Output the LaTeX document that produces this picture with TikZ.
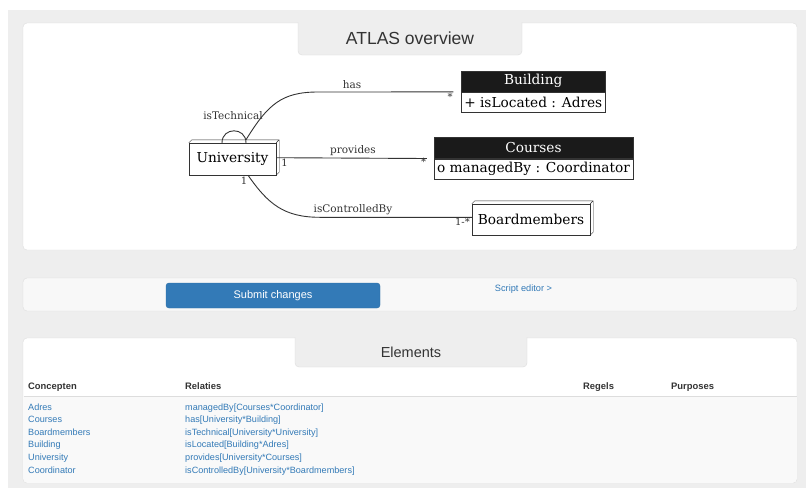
\documentclass[tikz,border=0pt]{standalone}
\usepackage{fontspec}
\setmainfont{DejaVu Serif}
\newfontfamily\websf{Liberation Sans}
\usetikzlibrary{calc}

\definecolor{pagegrey}{HTML}{EEEEEE}
\definecolor{panelline}{HTML}{DDDDDD}
\definecolor{linkblue}{HTML}{337AB7}
\definecolor{btnline}{HTML}{2E6DA4}
\definecolor{rowgrey}{HTML}{F9F9F9}
\definecolor{barfill}{HTML}{F8F8F8}
\definecolor{hdrblack}{HTML}{1A1A1A}
\definecolor{ink}{HTML}{333333}

\tikzset{
  panel/.style={draw=panelline, fill=white, rounded corners=4pt},
  tabshape/.style={draw=panelline, fill=pagegrey, rounded corners=4pt},
  tabtitle/.style={text=ink, font=\websf\fontsize{17.5}{20}\selectfont, inner sep=0pt},
  box3d/.style={draw=ink, fill=white, inner sep=0pt, font=\fontsize{13.7}{16}\selectfont},
  clshead/.style={draw=ink, fill=hdrblack, text=white, inner sep=0pt, minimum height=21pt, font=\fontsize{13.7}{16}\selectfont},
  clsbody/.style={draw=ink, fill=white, inner sep=0pt, minimum height=20pt, font=\fontsize{13.7}{16}\selectfont},
  rel/.style={draw=ink, line width=0.9pt},
  rellabel/.style={inner sep=0pt, text=ink, font=\fontsize{10.5}{12}\selectfont},
  mult/.style={inner sep=0pt, text=ink, font=\fontsize{10}{11}\selectfont},
  colhead/.style={anchor=base west, inner sep=0pt, text=ink, font=\websf\bfseries\fontsize{9.4}{11}\selectfont},
  cell/.style={anchor=base west, inner sep=0pt, text=linkblue, font=\websf\fontsize{9.1}{11}\selectfont},
}

\begin{document}
\begin{tikzpicture}[x=1pt, y=-1pt]
\useasboundingbox (0,0) rectangle (806,488);
\fill[white] (0,0) rectangle (806,488);
\fill[pagegrey] (8,10) rectangle (806,488);

% ---------- overview panel ----------
\draw[panel] (23,23) rectangle (797,250);
\draw[tabshape] (298,22) -- (298,55) -- (522,55) -- (522,22);
\node[tabtitle] (ovtitle) at (410,38.5) {ATLAS overview};

% concept University with its depth faces
\node[box3d, minimum width=87pt, minimum height=32pt] (uni) at (232.5,159) {University};
\draw[ink] (uni.north west) -- ++(3,-3) -- ($(uni.north east)+(3,-3)$)
  -- ($(uni.south east)+(3,-3)$) -- (uni.south east)
  (uni.north east) -- ++(3,-3);

% concept Boardmembers with its depth faces
\node[box3d, minimum width=118pt, minimum height=31pt] (bm) at (531,219.5) {Boardmembers};
\draw[ink] (bm.north west) -- ++(3,-3) -- ($(bm.north east)+(3,-3)$)
  -- ($(bm.south east)+(3,-3)$) -- (bm.south east)
  (bm.north east) -- ++(3,-3);

% class Building
\node[clshead, minimum width=143.5pt] (bld) at (533.25,81.2) {Building};
\node[clsbody, minimum width=143.5pt, anchor=north] (bldattr) at (bld.south) {+ isLocated : Adres};

% class Courses
\node[clshead, minimum width=199pt] (crs) at (533.5,147.8) {Courses};
\node[clsbody, minimum width=199pt, anchor=north] (crsattr) at (crs.south) {o managedBy : Coordinator};

% free ends of the relations
\coordinate (hasend) at ($(bld.south west)+(-8,0)$);
\coordinate (provend) at ($(crs.south west)+(-7,0)$);

% isTechnical self loop
\draw[rel] ($(uni.north)+(-10.5,0)$) .. controls ($(uni.north)+(-10.5,-16)$) and ($(uni.north)+(13.5,-16)$) .. ($(uni.north)+(13.5,0)$);
\node[rellabel] (ltech) at (233,116) {isTechnical};

% has
\draw[rel] ($(uni.north)+(13.5,-3)$) .. controls (268,104) and (282,92) .. (318,92) -- (hasend);
\node[rellabel] (lhas) at (352,84.5) {has};
\node[mult] (mhas) at (450,96.5) {*};

% provides
\draw[rel] ($(uni.east)+(0,-1.3)$) -- (provend);
\node[rellabel] (lprov) at (353,151) {provides};
\node[mult] (mprov1) at (284.5,163) {1};
\node[mult] (mprov2) at (423.5,162) {*};

% isControlledBy
\draw[rel] ($(uni.south)+(15.5,0)$) .. controls (268,204) and (284,217.3) .. (320,217.3) -- ($(bm.west)+(0,-2.2)$);
\node[rellabel] (lctrl) at (353,210) {isControlledBy};
\node[mult] (mctrl1) at (244,181) {1};
\node[mult] (mctrl2) at (462.5,222) {1-*};

% ---------- action bar ----------
\draw[draw=panelline, fill=barfill, rounded corners=4pt] (23,278) rectangle (797,311);
\draw[draw=btnline, fill=linkblue, rounded corners=3pt] (166,283) rectangle (380,308);
\node[inner sep=0pt, text=white, font=\websf\fontsize{11}{13}\selectfont] (submit) at (273,295.5) {Submit changes};
\node[inner sep=0pt, text=linkblue, font=\websf\fontsize{9.2}{11}\selectfont] (script) at (523.5,289) {Script editor >};

% ---------- elements panel ----------
\draw[panel] (23,338) rectangle (797,483);
\fill[rowgrey, rounded corners=3.5pt] (23.5,397) -- (23.5,482.5) -- (796.5,482.5) -- (796.5,397) -- cycle;
\fill[rowgrey] (23.5,397) rectangle (796.5,470);
\draw[panelline] (23.5,396.5) -- (796.5,396.5);
\draw[tabshape] (295,337) -- (295,367) -- (527,367) -- (527,337);
\node[tabtitle, font=\websf\fontsize{14.5}{17}\selectfont] (eltitle) at (411,352) {Elements};

\node[colhead] (hconc) at (28,389) {Concepten};
\node[colhead] (hrel) at (185,389) {Relaties};
\node[colhead] (hreg) at (583,389) {Regels};
\node[colhead] (hpur) at (671,389) {Purposes};

\node[cell] (c1) at (28,410.1) {Adres};
\node[cell] (c2) at (28,422.7) {Courses};
\node[cell] (c3) at (28,435.3) {Boardmembers};
\node[cell] (c4) at (28,447.9) {Building};
\node[cell] (c5) at (28,460.5) {University};
\node[cell] (c6) at (28,473.1) {Coordinator};

\node[cell] (r1) at (185,410.1) {managedBy[Courses*Coordinator]};
\node[cell] (r2) at (185,422.7) {has[University*Building]};
\node[cell] (r3) at (185,435.3) {isTechnical[University*University]};
\node[cell] (r4) at (185,447.9) {isLocated[Building*Adres]};
\node[cell] (r5) at (185,460.5) {provides[University*Courses]};
\node[cell] (r6) at (185,473.1) {isControlledBy[University*Boardmembers]};
\end{tikzpicture}
\end{document}
